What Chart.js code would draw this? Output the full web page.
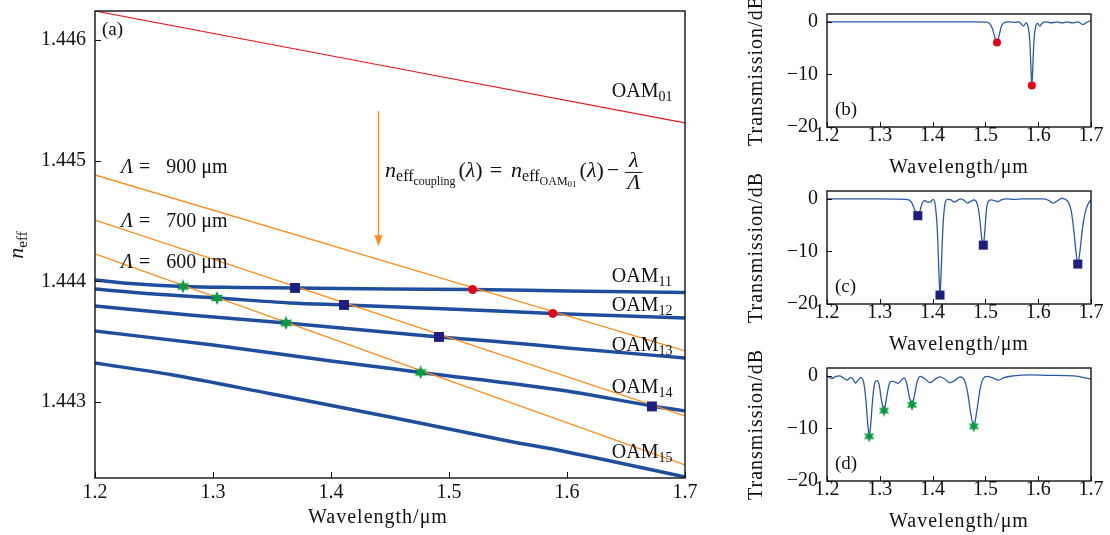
<!DOCTYPE html>
<html>
<head>
<meta charset="utf-8">
<title>OAM coupling</title>
<script src="https://cdn.jsdelivr.net/npm/chart.js@4.4.1/dist/chart.umd.min.js"></script>
<style>
  html, body { margin: 0; padding: 0; background: #fff; }
  #wrap { position: relative; width: 1110px; height: 535px; overflow: hidden; }
  #wrap canvas { position: absolute; top: 0; }
</style>
</head>
<body>
<div id="wrap">
  <canvas id="main" width="720" height="535" style="left:0;width:720px;height:535px"></canvas>
  <canvas id="subB" width="390" height="535" style="left:720px;width:390px;height:535px"></canvas>
  <canvas id="subC" width="390" height="535" style="left:720px;width:390px;height:535px"></canvas>
  <canvas id="subD" width="390" height="535" style="left:720px;width:390px;height:535px"></canvas>
</div>
<script>
// --- datos (a): índices efectivos vs longitud de onda
const xTicks = [1.2, 1.3, 1.4, 1.5, 1.6, 1.7];
const nTicks = [1.443, 1.444, 1.445, 1.446];
const dbTicks = [-20, -10, 0];

const oam01Wl = [1.2, 1.7];
const oam01N  = [1.44624, 1.445312];

const oam11Wl = [1.2, 1.23, 1.275, 1.32, 1.37, 1.45, 1.52, 1.6, 1.7];
const oam11N  = [1.444011, 1.443982, 1.443957, 1.443949, 1.443945, 1.443937, 1.443932, 1.44392, 1.443908];
const oam12Wl = [1.2, 1.25, 1.303, 1.365, 1.411, 1.5, 1.588, 1.7];
const oam12N  = [1.443937, 1.443895, 1.443862, 1.443821, 1.443804, 1.443771, 1.443734, 1.443696];
const oam13Wl = [1.2, 1.28, 1.362, 1.4915, 1.535, 1.6, 1.7];
const oam13N  = [1.443796, 1.443721, 1.443655, 1.443539, 1.443506, 1.443448, 1.443365];
const oam14Wl = [1.2, 1.3, 1.4, 1.476, 1.6, 1.672, 1.7];
const oam14N  = [1.443588, 1.443472, 1.44334, 1.443245, 1.443091, 1.442967, 1.442926];
const oam15Wl = [1.2, 1.266, 1.35, 1.45, 1.55, 1.6, 1.7];
const oam15N  = [1.443323, 1.443224, 1.443066, 1.442876, 1.442677, 1.442586, 1.442379];

// rectas de acoplamiento (extremos 1.2 y 1.7)
const periods = [900, 700, 600];
const coupWl = [1.2, 1.7];
const coup900N = [1.444881, 1.443423];
const coup700N = [1.444508, 1.442884];
const coup600N = [1.444227, 1.442478];

// intersecciones
const redWl = [1.52, 1.588];
const redN  = [1.443932, 1.443734];
const sqWl  = [1.3695, 1.411, 1.4915, 1.672];
const sqN   = [1.443945, 1.443804, 1.443539, 1.442963];
const stWl  = [1.2746, 1.3034, 1.3619, 1.476];
const stN   = [1.443957, 1.443862, 1.443655, 1.443245];

// etiquetas
const modeNames  = ['01', '11', '12', '13', '14', '15'];
const modeLabelN = [1.445528, 1.443995, 1.443754, 1.443423, 1.443075, 1.442536];
const periodLabelN = [1.444898, 1.44445, 1.444111];

// --- datos (b) (c) (d): transmisión en dB
const bWl = [1.2, 1.3, 1.4, 1.48, 1.5, 1.508, 1.513, 1.518, 1.522, 1.526, 1.53, 1.535, 1.545, 1.555, 1.562, 1.567, 1.572, 1.577, 1.581, 1.584, 1.586, 1.588, 1.59, 1.592, 1.595, 1.599, 1.603, 1.608, 1.615, 1.625, 1.635, 1.645, 1.655, 1.665, 1.675, 1.685, 1.692, 1.7];
const bDb = [0, 0, 0, 0, -0.05, -0.3, -1.2, -3.0, -3.9, -2.6, -0.9, -0.2, 0, -0.1, 0, -0.3, -0.8, -0.2, -1.0, -3.5, -8.0, -12.1, -8.0, -3.5, -1.0, -0.3, -0.8, -0.2, 0, -0.2, 0, -0.2, 0, -0.2, 0, -0.5, -0.1, 0.3];
const bMarkWl = [1.522, 1.588];
const bMarkDb = [-3.9, -12.1];

const cWl = [1.2, 1.3, 1.35, 1.36, 1.365, 1.369, 1.372, 1.376, 1.38, 1.385, 1.39, 1.395, 1.401, 1.405, 1.409, 1.412, 1.414, 1.416, 1.419, 1.423, 1.428, 1.435, 1.441, 1.447, 1.453, 1.46, 1.466, 1.472, 1.478, 1.484, 1.489, 1.493, 1.496, 1.499, 1.502, 1.506, 1.512, 1.518, 1.524, 1.53, 1.54, 1.555, 1.57, 1.59, 1.61, 1.62, 1.629, 1.637, 1.645, 1.652, 1.658, 1.663, 1.668, 1.672, 1.675, 1.679, 1.684, 1.69, 1.696, 1.7];
const cDb = [0, 0, -0.1, -0.6, -1.8, -2.8, -3.2, -2.3, -0.9, -0.3, -0.6, -0.6, -0.1, -1.2, -6.0, -14.0, -18.3, -14.5, -6.5, -1.2, -0.1, -0.2, -0.6, -0.3, 0, -0.3, -0.8, -0.5, -0.2, -0.8, -3.5, -7.5, -8.8, -6.0, -2.0, -0.4, -0.2, -0.4, -0.5, -0.2, 0, -0.1, 0, 0, 0, -0.3, -0.8, -0.3, 0.1, -0.1, -0.8, -2.5, -6.5, -10.5, -12.4, -10.0, -5.5, -2.2, -0.7, -0.2];
const cMarkWl = [1.372, 1.414, 1.496, 1.675];
const cMarkDb = [-3.2, -18.3, -8.8, -12.4];

const dWl = [1.2, 1.209, 1.217, 1.224, 1.231, 1.238, 1.245, 1.25, 1.254, 1.259, 1.264, 1.27, 1.274, 1.277, 1.28, 1.283, 1.286, 1.29, 1.295, 1.299, 1.303, 1.308, 1.313, 1.318, 1.323, 1.329, 1.335, 1.341, 1.346, 1.351, 1.356, 1.361, 1.366, 1.371, 1.377, 1.386, 1.395, 1.404, 1.414, 1.423, 1.433, 1.443, 1.452, 1.46, 1.466, 1.472, 1.478, 1.484, 1.49, 1.496, 1.503, 1.514, 1.525, 1.536, 1.553, 1.584, 1.62, 1.667, 1.7];
const dDb = [0, -0.5, -0.1, 0, -0.4, -0.8, -0.3, -0.7, -1.4, -0.8, -0.3, -1.5, -5.0, -9.0, -11.5, -9.0, -5.0, -1.5, -0.9, -1.8, -4.5, -6.6, -4.0, -1.5, -1.0, -1.2, -1.4, -0.8, -0.4, -1.5, -4.0, -5.5, -3.5, -1.0, -0.1, -0.6, -1.3, -0.7, -0.2, -0.6, -1.3, -0.8, -0.2, -0.8, -3.0, -7.0, -9.6, -6.5, -2.5, -0.5, -0.1, -0.4, -0.8, -0.3, 0, 0.2, 0.1, 0, -0.6];
const dMarkWl = [1.28, 1.308, 1.361, 1.478];
const dMarkDb = [-11.5, -6.6, -5.5, -9.6];

// --- estilos
const SERIF = "'Liberation Serif', 'DejaVu Serif', serif";
const BLUE = '#1f4e9e', ORANGE = '#ff8a1c', RED = '#e8141e';
const NAVY = '#1e1e80', GREEN = '#0a9a40', DOT = '#e60014', CURVE = '#2a5aa8';

const pts = (xs, ys) => xs.map((x, i) => ({ x, y: ys[i] }));

// estrella rellena para los marcadores verdes
function starImg(size, color) {
  const c = document.createElement('canvas');
  c.width = c.height = size;
  const g = c.getContext('2d');
  const r1 = size / 2, r2 = size / 4, m = size / 2;
  g.fillStyle = color;
  g.beginPath();
  for (let i = 0; i < 12; i++) {
    const r = i % 2 ? r2 : r1, a = -Math.PI / 2 + i * Math.PI / 6;
    g.lineTo(m + r * Math.cos(a), m + r * Math.sin(a));
  }
  g.closePath();
  g.fill();
  return c;
}

// texto con subíndices: partes [{t, s, i, dy, g}]
function txt(ctx, x, y, parts) {
  let cx = x;
  for (const p of parts) {
    ctx.font = (p.i ? 'italic ' : '') + p.s + 'px ' + SERIF;
    ctx.fillText(p.t, cx, y + (p.dy || 0));
    cx += ctx.measureText(p.t).width + (p.g || 0);
  }
  return cx;
}
function txtW(ctx, parts) {
  let w = 0;
  for (const p of parts) {
    ctx.font = (p.i ? 'italic ' : '') + p.s + 'px ' + SERIF;
    w += ctx.measureText(p.t).width + (p.g || 0);
  }
  return w;
}

// marco completo y ticks hacia dentro
function frame(chart, len) {
  const { ctx, chartArea: a } = chart;
  const xs = chart.scales.x, ys = chart.scales.y;
  ctx.save();
  ctx.strokeStyle = '#111';
  ctx.lineWidth = 1;
  ctx.beginPath();
  xs.ticks.forEach(t => {
    const p = Math.round(xs.getPixelForValue(t.value)) + 0.5;
    ctx.moveTo(p, a.bottom); ctx.lineTo(p, a.bottom - len);
  });
  ys.ticks.forEach(t => {
    const p = Math.round(ys.getPixelForValue(t.value)) + 0.5;
    ctx.moveTo(a.left, p); ctx.lineTo(a.left + len, p);
  });
  ctx.stroke();
  ctx.lineWidth = 1.4;
  ctx.strokeRect(a.left, a.top, a.right - a.left, a.bottom - a.top);
  ctx.restore();
}

// sin relleno automático de etiquetas: el área la fija el layout
const noPad = s => { s.paddingTop = 0; s.paddingBottom = 0; s.paddingLeft = 0; s.paddingRight = 0; };

const tickFont = { family: SERIF, size: 20, lineHeight: 1 };

// --- gráfico principal (a)
const mainPlugin = {
  id: 'mainDeco',
  afterDraw(chart) {
    const { ctx, chartArea: a } = chart;
    const px = v => chart.scales.x.getPixelForValue(v);
    const py = v => chart.scales.y.getPixelForValue(v);
    frame(chart, 6);
    ctx.save();
    ctx.fillStyle = '#111';
    ctx.textAlign = 'left';
    ctx.textBaseline = 'alphabetic';

    txt(ctx, a.left + 7, a.top + 24, [{ t: '(a)', s: 19 }]);

    periods.forEach((p, i) => {
      txt(ctx, px(1.222), py(periodLabelN[i]), [
        { t: 'Λ', s: 20, i: 1, g: 6 }, { t: '=', s: 20, g: 16 }, { t: p + ' μm', s: 20 }
      ]);
    });

    modeNames.forEach((m, i) => {
      txt(ctx, px(1.638), py(modeLabelN[i]), [{ t: 'OAM', s: 20 }, { t: m, s: 14, dy: 4 }]);
    });

    // fórmula
    let fx = px(1.4458), fy = py(1.444865);
    fx = txt(ctx, fx, fy, [
      { t: 'n', s: 22, i: 1 }, { t: 'eff', s: 16, dy: 4 }, { t: 'coupling', s: 12, dy: 8, g: 3 },
      { t: '(', s: 22 }, { t: 'λ', s: 22, i: 1 }, { t: ')', s: 22, g: 7 }, { t: '=', s: 22, g: 9 },
      { t: 'n', s: 22, i: 1 }, { t: 'eff', s: 16, dy: 4 }, { t: 'OAM', s: 12, dy: 8 }, { t: '01', s: 9, dy: 10, g: 3 },
      { t: '(', s: 22 }, { t: 'λ', s: 22, i: 1 }, { t: ')', s: 22, g: 3 }, { t: '−', s: 22, g: 6 }
    ]);
    const lw = txtW(ctx, [{ t: 'λ', s: 22, i: 1 }]), Lw = txtW(ctx, [{ t: 'Λ', s: 22, i: 1 }]);
    const fw = Math.max(lw, Lw) + 4;
    txt(ctx, fx + (fw - lw) / 2, fy - 10, [{ t: 'λ', s: 22, i: 1 }]);
    txt(ctx, fx + (fw - Lw) / 2, fy + 12, [{ t: 'Λ', s: 22, i: 1 }]);
    ctx.fillRect(fx, fy - 5, fw, 1);

    // flecha naranja
    const ax = Math.round(px(1.44)) + 0.5, ay0 = py(1.44541), ay1 = py(1.44429);
    ctx.strokeStyle = ORANGE; ctx.fillStyle = ORANGE; ctx.lineWidth = 1.3;
    ctx.beginPath(); ctx.moveTo(ax, ay0); ctx.lineTo(ax, ay1 - 6); ctx.stroke();
    ctx.beginPath(); ctx.moveTo(ax - 4, ay1 - 11); ctx.lineTo(ax + 4, ay1 - 11); ctx.lineTo(ax, ay1); ctx.closePath(); ctx.fill();

    // títulos de ejes
    ctx.fillStyle = '#111';
    ctx.letterSpacing = '1px';
    const tw = txtW(ctx, [{ t: 'Wavelength/μm', s: 20 }]);
    txt(ctx, 378 - tw / 2, a.bottom + 45, [{ t: 'Wavelength/μm', s: 20 }]);
    ctx.letterSpacing = '0px';
    ctx.translate(23, 245);
    ctx.rotate(-Math.PI / 2);
    const nw = txtW(ctx, [{ t: 'n', s: 22, i: 1 }, { t: 'eff', s: 15 }]);
    txt(ctx, -nw / 2, 0, [{ t: 'n', s: 22, i: 1 }, { t: 'eff', s: 15, dy: 4 }]);
    ctx.restore();
  }
};

const lineDs = (xs, ys, color, width, order) => ({
  data: pts(xs, ys), showLine: true, borderColor: color, borderWidth: width,
  pointRadius: 0, cubicInterpolationMode: 'monotone', order
});

new Chart(document.getElementById('main'), {
  type: 'scatter',
  data: {
    datasets: [
      { data: pts(redWl, redN), pointStyle: 'circle', pointRadius: 4.5, backgroundColor: DOT, borderWidth: 0, order: 0 },
      { data: pts(sqWl, sqN), pointStyle: 'rect', pointRadius: 7, backgroundColor: NAVY, borderWidth: 0, order: 0 },
      { data: pts(stWl, stN), pointStyle: starImg(14, GREEN), pointRadius: 7, order: 0 },
      lineDs(coupWl, coup900N, ORANGE, 1.3, 1),
      lineDs(coupWl, coup700N, ORANGE, 1.3, 1),
      lineDs(coupWl, coup600N, ORANGE, 1.3, 1),
      lineDs(oam01Wl, oam01N, RED, 1.2, 2),
      lineDs(oam11Wl, oam11N, BLUE, 3.5, 2),
      lineDs(oam12Wl, oam12N, BLUE, 3.5, 2),
      lineDs(oam13Wl, oam13N, BLUE, 3.5, 2),
      lineDs(oam14Wl, oam14N, BLUE, 3.5, 2),
      lineDs(oam15Wl, oam15N, BLUE, 3.5, 2)
    ]
  },
  options: {
    responsive: false, animation: false, devicePixelRatio: 1,
    layout: { padding: { top: 11, right: 35, left: 0, bottom: 0 } },
    plugins: { legend: { display: false }, tooltip: { enabled: false } },
    scales: {
      x: {
        type: 'linear', min: 1.2, max: 1.7,
        grid: { display: false, drawTicks: false }, border: { display: false },
        afterBuildTicks: s => { s.ticks = xTicks.map(v => ({ value: v })); },
        afterFit: s => { s.height = 57; noPad(s); },
        ticks: { font: tickFont, color: '#111', padding: 5, maxRotation: 0, callback: v => v.toFixed(1) }
      },
      y: {
        type: 'linear', min: 1.44237, max: 1.44624,
        grid: { display: false, drawTicks: false }, border: { display: false },
        afterBuildTicks: s => { s.ticks = nTicks.map(v => ({ value: v })); },
        afterFit: s => { s.width = 95; noPad(s); },
        ticks: { font: tickFont, color: '#111', padding: 9, callback: v => v.toFixed(3) }
      }
    }
  },
  plugins: [mainPlugin]
});

// --- subgráficos (b) (c) (d)
function makeSub(id, tag, wl, db, mWl, mDb, marker, top, bottom) {
  const deco = {
    id: 'deco' + tag,
    afterDraw(chart) {
      const { ctx, chartArea: a } = chart;
      frame(chart, 5);
      ctx.save();
      ctx.fillStyle = '#111';
      ctx.textAlign = 'left';
      ctx.textBaseline = 'alphabetic';
      txt(ctx, a.left + 8, a.bottom - 12, [{ t: '(' + tag + ')', s: 19 }]);
      ctx.letterSpacing = '1px';
      const tw = txtW(ctx, [{ t: 'Wavelength/μm', s: 20 }]);
      txt(ctx, (a.left + a.right) / 2 - tw / 2, a.bottom + 46, [{ t: 'Wavelength/μm', s: 20 }]);
      ctx.translate(42, (a.top + a.bottom) / 2);
      ctx.rotate(-Math.PI / 2);
      const yw = txtW(ctx, [{ t: 'Transmission/dB', s: 20 }]);
      txt(ctx, -yw / 2, 0, [{ t: 'Transmission/dB', s: 20 }]);
      ctx.restore();
    }
  };
  new Chart(document.getElementById(id), {
    type: 'scatter',
    data: {
      datasets: [
        Object.assign({ data: pts(mWl, mDb), borderWidth: 0, order: 0 }, marker),
        { data: pts(wl, db), showLine: true, borderColor: CURVE, borderWidth: 1.3, pointRadius: 0,
          cubicInterpolationMode: 'monotone', order: 1 }
      ]
    },
    options: {
      responsive: false, animation: false, devicePixelRatio: 1,
      layout: { padding: { top: top, right: 19, left: 0, bottom: 535 - bottom - 40 } },
      plugins: { legend: { display: false }, tooltip: { enabled: false } },
      scales: {
        x: {
          type: 'linear', min: 1.2, max: 1.7,
          grid: { display: false, drawTicks: false }, border: { display: false },
          afterBuildTicks: s => { s.ticks = xTicks.map(v => ({ value: v })); },
          afterFit: s => { s.height = 40; noPad(s); },
          ticks: { font: { family: SERIF, size: 20, lineHeight: 0.7 }, color: '#111', padding: 2,
                   maxRotation: 0, callback: v => v.toFixed(1) }
        },
        y: {
          type: 'linear', min: -20, max: 1.5,
          grid: { display: false, drawTicks: false }, border: { display: false },
          afterBuildTicks: s => { s.ticks = dbTicks.map(v => ({ value: v })); },
          afterFit: s => { s.width = 107; noPad(s); },
          ticks: { font: tickFont, color: '#111', padding: 9, callback: v => (v < 0 ? '−' + Math.abs(v) : String(v)) }
        }
      }
    },
    plugins: [deco]
  });
}

makeSub('subB', 'b', bWl, bDb, bMarkWl, bMarkDb,
  { pointStyle: 'circle', pointRadius: 4, backgroundColor: DOT }, 14, 127);
makeSub('subC', 'c', cWl, cDb, cMarkWl, cMarkDb,
  { pointStyle: 'rect', pointRadius: 6.4, backgroundColor: NAVY }, 191, 304);
makeSub('subD', 'd', dWl, dDb, dMarkWl, dMarkDb,
  { pointStyle: starImg(12, GREEN), pointRadius: 6 }, 368, 481);
</script>
</body>
</html>
